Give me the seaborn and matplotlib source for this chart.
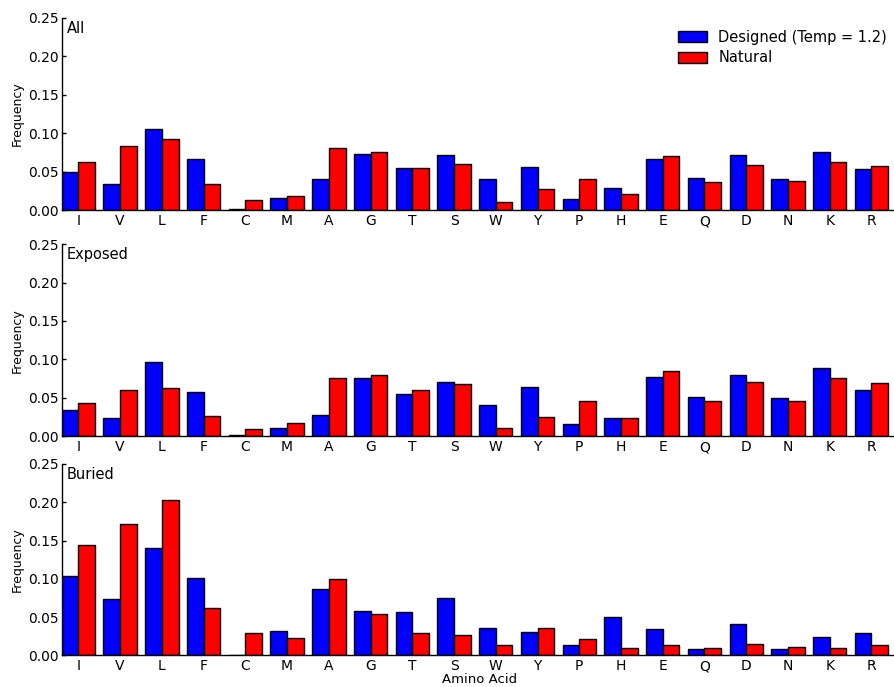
import pandas as pd
import matplotlib
matplotlib.use("Agg")
import matplotlib.pyplot as plt
import seaborn as sns

amino_acids = ['I', 'V', 'L', 'F', 'C', 'M', 'A', 'G', 'T', 'S',
               'W', 'Y', 'P', 'H', 'E', 'Q', 'D', 'N', 'K', 'R']

all_designed = [0.049, 0.034, 0.105, 0.066, 0.001, 0.015, 0.040, 0.073, 0.055, 0.072,
                0.040, 0.056, 0.014, 0.028, 0.066, 0.041, 0.071, 0.040, 0.075, 0.053]
all_natural = [0.063, 0.083, 0.092, 0.034, 0.013, 0.018, 0.081, 0.075, 0.054, 0.060,
               0.011, 0.027, 0.040, 0.021, 0.070, 0.037, 0.059, 0.038, 0.062, 0.057]

exposed_designed = [0.034, 0.023, 0.096, 0.057, 0.001, 0.010, 0.027, 0.076, 0.055, 0.071,
                    0.041, 0.064, 0.015, 0.023, 0.077, 0.051, 0.080, 0.049, 0.089, 0.060]
exposed_natural = [0.043, 0.060, 0.063, 0.026, 0.009, 0.017, 0.075, 0.080, 0.060, 0.068,
                   0.010, 0.025, 0.046, 0.024, 0.085, 0.045, 0.071, 0.045, 0.076, 0.069]

buried_designed = [0.103, 0.073, 0.140, 0.101, 0.000, 0.032, 0.086, 0.058, 0.056, 0.075,
                   0.036, 0.031, 0.013, 0.050, 0.034, 0.008, 0.041, 0.008, 0.024, 0.029]
buried_natural = [0.144, 0.172, 0.203, 0.062, 0.029, 0.023, 0.100, 0.054, 0.029, 0.027,
                  0.014, 0.036, 0.021, 0.010, 0.013, 0.010, 0.015, 0.011, 0.010, 0.013]

series_names = ['Designed (Temp = 1.2)', 'Natural']
panels = [
    ('All', all_designed, all_natural),
    ('Exposed', exposed_designed, exposed_natural),
    ('Buried', buried_designed, buried_natural),
]


def make_frame(designed, natural):
    rows = []
    for aa, d, n in zip(amino_acids, designed, natural):
        rows.append({'Amino Acid': aa, 'Frequency': d, 'Source': series_names[0]})
        rows.append({'Amino Acid': aa, 'Frequency': n, 'Source': series_names[1]})
    return pd.DataFrame(rows)


sns.set_style("white")
plt.rcParams['font.family'] = ['DejaVu Sans']
plt.rcParams['font.size'] = 10
plt.rcParams['text.color'] = 'black'
plt.rcParams['axes.labelcolor'] = 'black'
plt.rcParams['xtick.color'] = 'black'
plt.rcParams['ytick.color'] = 'black'

fig = plt.figure(figsize=(8.94, 6.87), dpi=100)
left = 61.7 / 894
width = 834.8 / 894
# bottom, height in figure fraction for each panel
boxes = [(1 - 210 / 687, 192.3 / 687),
         (1 - 436 / 687, 191.7 / 687),
         (1 - 655.3 / 687, 191.3 / 687)]

for i, (name, designed, natural) in enumerate(panels):
    ax = fig.add_axes([left, boxes[i][0], width, boxes[i][1]])
    df = make_frame(designed, natural)
    sns.barplot(data=df, x='Amino Acid', y='Frequency', hue='Source',
                order=amino_acids, hue_order=series_names,
                palette=['#0000ff', '#ff0000'], edgecolor='black', linewidth=1,
                errorbar=None, saturation=1, width=0.8, ax=ax)
    ax.set_xlim(-0.4, 19.6)
    ax.set_ylim(0, 0.25)
    ax.set_yticks([0.0, 0.05, 0.10, 0.15, 0.20, 0.25])
    ax.set_yticklabels(['0.00', '0.05', '0.10', '0.15', '0.20', '0.25'])
    ax.tick_params(axis='y', direction='in', length=3, width=1, left=True,
                   labelsize=10, pad=2)
    ax.tick_params(axis='x', length=0, labelsize=10, pad=3)
    ax.set_ylabel('Frequency', fontsize=9, labelpad=3)
    ax.set_xlabel('Amino Acid' if i == 2 else '', fontsize=9.5, labelpad=0)
    for side in ['top', 'right']:
        ax.spines[side].set_visible(False)
    for side in ['left', 'bottom']:
        ax.spines[side].set_color('black')
        ax.spines[side].set_linewidth(1)
    ax.text(0.006, 0.945, name, transform=ax.transAxes, fontsize=10.5,
            ha='left', va='center')
    if i == 0:
        ax.legend(loc='upper right', frameon=False, fontsize=10.5,
                  bbox_to_anchor=(1.007, 0.976), bbox_transform=fig.transFigure,
                  handlelength=2.0, handleheight=0.8, labelspacing=0.4)
    else:
        leg = ax.get_legend()
        if leg is not None:
            leg.remove()

fig.savefig('out.png', dpi=100)
